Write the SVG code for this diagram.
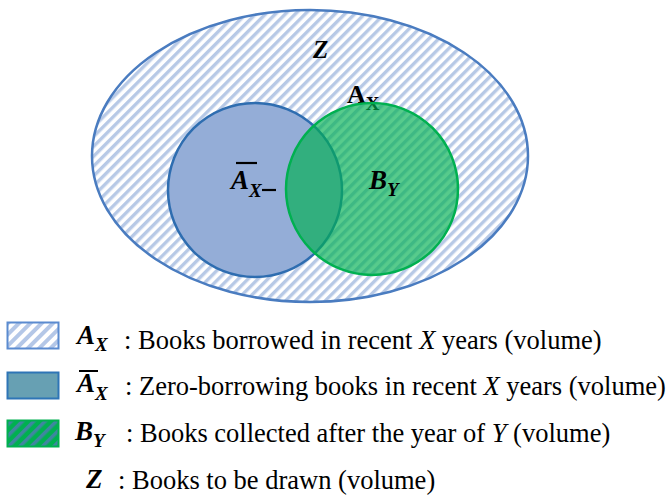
<svg xmlns="http://www.w3.org/2000/svg" width="670" height="498" viewBox="0 0 670 498">
<style>
.t{font-family:"Liberation Serif","Times New Roman",serif;fill:#000}
.bi{font-weight:bold;font-style:italic}
.b{font-weight:bold}
.i{font-style:italic}
.leg{font-size:26.5px}
.lab{font-size:27px}
.sub{font-size:19px}
</style>
<defs>
<pattern id="hatch" patternUnits="userSpaceOnUse" width="7" height="7" patternTransform="rotate(45)">
<rect width="7" height="7" fill="#ffffff"/>
<rect width="3.4" height="7" fill="#b7c9e6"/>
</pattern>
<pattern id="hatchG" patternUnits="userSpaceOnUse" width="8" height="8" patternTransform="rotate(45)">
<rect width="8" height="8" fill="#00b050"/>
<rect width="3.5" height="8" fill="#3f86a0"/>
</pattern>
<pattern id="hatchL" patternUnits="userSpaceOnUse" width="8" height="8" patternTransform="rotate(45)">
<rect width="8" height="8" fill="#ffffff"/>
<rect width="4" height="8" fill="#b4c7e7"/>
</pattern>
</defs>

<g id="node-Z">
<ellipse cx="310" cy="156" rx="218" ry="146" fill="url(#hatch)" stroke="#4a7cc0" stroke-width="2.5"/>
<text class="t bi" x="313" y="58" font-size="25">Z</text>
<text class="t b" x="347" y="103" font-size="26">A<tspan font-size="19" dy="7">X</tspan></text>
</g>

<g id="node-Abar">
<circle cx="255" cy="190" r="87" fill="#94add7" stroke="#2e6db0" stroke-width="2.5"/>
<text class="t bi" x="231" y="189" font-size="27">A<tspan font-size="19" dy="8">X</tspan></text>
<line x1="236" y1="163" x2="257" y2="163" stroke="#000" stroke-width="2.2"/>
<line x1="262" y1="190" x2="276" y2="190" stroke="#000" stroke-width="2.2"/>
</g>

<g id="node-B">
<circle cx="372" cy="189" r="86" fill="#00b050" fill-opacity="0.66" stroke="#00b050" stroke-width="2.5"/>
<text class="t bi" x="369" y="189" font-size="27">B<tspan font-size="19" dy="7">Y</tspan></text>
</g>

<g id="connectors"></g>

<g id="legend">
<rect x="7.5" y="322.5" width="51" height="26" fill="url(#hatchL)" stroke="#5b8bd0" stroke-width="2"/>
<rect x="7.5" y="372.5" width="51" height="26" fill="#67a0b3" stroke="#2e75b6" stroke-width="2"/>
<rect x="7.5" y="420.5" width="51" height="26" fill="url(#hatchG)" stroke="#00b050" stroke-width="2"/>

<text class="t bi lab" x="77" y="344">A<tspan class="sub" dy="7">X</tspan></text>
<text class="t leg" x="124" y="349">: Books borrowed in recent <tspan class="i">X</tspan> years (volume)</text>

<line x1="79" y1="371" x2="98" y2="371" stroke="#000" stroke-width="2"/>
<text class="t bi lab" x="77" y="392">A<tspan class="sub" dy="8">X</tspan></text>
<text class="t leg" x="125" y="395">: Zero-borrowing books in recent <tspan class="i">X</tspan> years (volume)</text>

<text class="t bi lab" x="75" y="440">B<tspan class="sub" dy="7">Y</tspan></text>
<text class="t leg" x="126" y="442">: Books collected after the year of <tspan class="i">Y</tspan> (volume)</text>

<text class="t bi lab" x="86" y="488">Z</text>
<text class="t leg" x="118" y="489">: Books to be drawn (volume)</text>
</g>
</svg>
